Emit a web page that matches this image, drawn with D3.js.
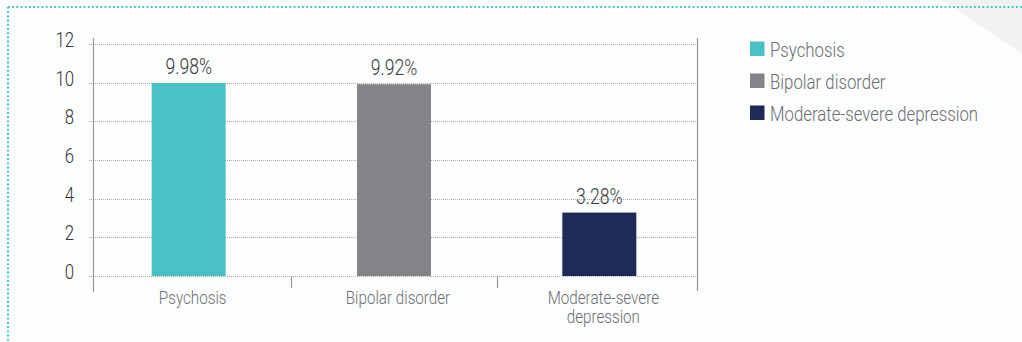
<!DOCTYPE html>
<html>
<head>
<meta charset="utf-8">
<script src="https://cdn.jsdelivr.net/npm/d3@7"></script>
<style>
  html, body { margin: 0; padding: 0; background: #fcfdfd; }
  svg { display: block; }
  text { font-family: Roboto, "Noto Sans", sans-serif; font-weight: 300; }
</style>
</head>
<body>
<svg id="chart" width="1022" height="342"></svg>
<script>
// Share of patients by diagnosis (%)
const categories = ["Psychosis", "Bipolar disorder", "Moderate-severe depression"];
const categoryLines = [["Psychosis"], ["Bipolar disorder"], ["Moderate-severe", "depression"]];
const values = [9.98, 9.92, 3.28];
const valueLabels = ["9.98%", "9.92%", "3.28%"];
const yTicks = [0, 2, 4, 6, 8, 10, 12];

const palette = ["#49c2c6", "#838488", "#1f2a58"];

const svg = d3.select("#chart");
const W = 1022, H = 342;
const narrow = 0.8; // horizontal squeeze for a condensed look

// place a text at (x, y) with condensed letterforms
function place(sel, fx, fy) {
  sel.attr("x", 0).attr("y", 0)
    .attr("transform", (d, i) => `translate(${fx(d, i)},${fy(d, i)}) scale(${narrow},1)`);
}

// background accent in the corner
svg.append("polygon")
  .attr("points", "942,0 1022,0 1022,54")
  .attr("fill", "#f1f2f3");

// dotted frame on top and left
svg.append("line")
  .attr("x1", 8).attr("x2", W).attr("y1", 7).attr("y2", 7)
  .attr("stroke", "#44c2c8").attr("stroke-width", 2.2)
  .attr("stroke-dasharray", "1.8,2.4");
svg.append("line")
  .attr("x1", 8).attr("x2", 8).attr("y1", 7).attr("y2", H)
  .attr("stroke", "#44c2c8").attr("stroke-width", 2.2)
  .attr("stroke-dasharray", "1.8,2.4");

const plot = { left: 93, right: 697, top: 44, bottom: 276 };

const y = d3.scaleLinear().domain([0, 12]).range([plot.bottom, plot.top]);
const x = d3.scaleBand().domain(categories).range([86, 702]).paddingInner(0).paddingOuter(0);
const barW = 74;
const cx = d => x(d) + x.bandwidth() / 2;

// horizontal dotted gridlines
svg.append("g").selectAll("line")
  .data(yTicks)
  .join("line")
  .attr("x1", plot.left - 4).attr("x2", plot.right)
  .attr("y1", d => Math.round(y(d)) + 0.5).attr("y2", d => Math.round(y(d)) + 0.5)
  .attr("stroke", "#a9a9a9").attr("stroke-width", 1)
  .attr("stroke-dasharray", "1,1");

// y tick labels
svg.append("g").selectAll("text")
  .data(yTicks)
  .join("text")
  .attr("text-anchor", "end")
  .attr("font-size", 21)
  .attr("fill", "#333")
  .text(d => d)
  .call(place, () => 74, d => y(d) + 3);

// vertical frame lines of the plot area
svg.append("line")
  .attr("x1", plot.left + 0.5).attr("x2", plot.left + 0.5).attr("y1", 38).attr("y2", 292)
  .attr("stroke", "#9a9a9a").attr("stroke-width", 1.2);
svg.append("line")
  .attr("x1", plot.right + 0.5).attr("x2", plot.right + 0.5).attr("y1", 38).attr("y2", 291)
  .attr("stroke", "#9a9a9a").attr("stroke-width", 1.2);

// category separators below the baseline
svg.append("g").selectAll("line")
  .data(categories.slice(1))
  .join("line")
  .attr("x1", d => Math.round(x(d)) + 0.5).attr("x2", d => Math.round(x(d)) + 0.5)
  .attr("y1", plot.bottom).attr("y2", plot.bottom + 12)
  .attr("stroke", "#9a9a9a").attr("stroke-width", 1.2);

// bars
svg.append("g").selectAll("rect")
  .data(categories)
  .join("rect")
  .attr("x", d => cx(d) - barW / 2)
  .attr("y", (d, i) => y(values[i]))
  .attr("width", barW)
  .attr("height", (d, i) => y(0) - y(values[i]))
  .attr("fill", (d, i) => palette[i]);

// value labels
svg.append("g").selectAll("text")
  .data(categories)
  .join("text")
  .attr("text-anchor", "middle")
  .attr("font-size", 22)
  .attr("fill", "#3a3a3a")
  .text((d, i) => valueLabels[i])
  .call(place, d => cx(d), (d, i) => y(values[i]) - 9);

// category labels
const catText = svg.append("g").selectAll("text")
  .data(categories)
  .join("text")
  .attr("text-anchor", "middle")
  .attr("font-size", 19)
  .attr("fill", "#6d6e71")
  .call(place, d => cx(d) + 4, () => 304);
catText.each(function (d, i) {
  d3.select(this).selectAll("tspan")
    .data(categoryLines[i])
    .join("tspan")
    .attr("x", 0)
    .attr("dy", (t, j) => j === 0 ? 0 : 19)
    .text(t => t);
});

// legend
const legend = svg.append("g").selectAll("g")
  .data(categories)
  .join("g")
  .attr("transform", (d, i) => `translate(750, ${49 + i * 32})`);
legend.append("rect")
  .attr("x", 0).attr("y", -7.5)
  .attr("width", 14.5).attr("height", 14.5)
  .attr("fill", (d, i) => palette[i]);
legend.append("text")
  .attr("font-size", 21)
  .attr("fill", "#6d6e71")
  .text(d => d)
  .call(place, () => 20, () => 7.5);
</script>
</body>
</html>
